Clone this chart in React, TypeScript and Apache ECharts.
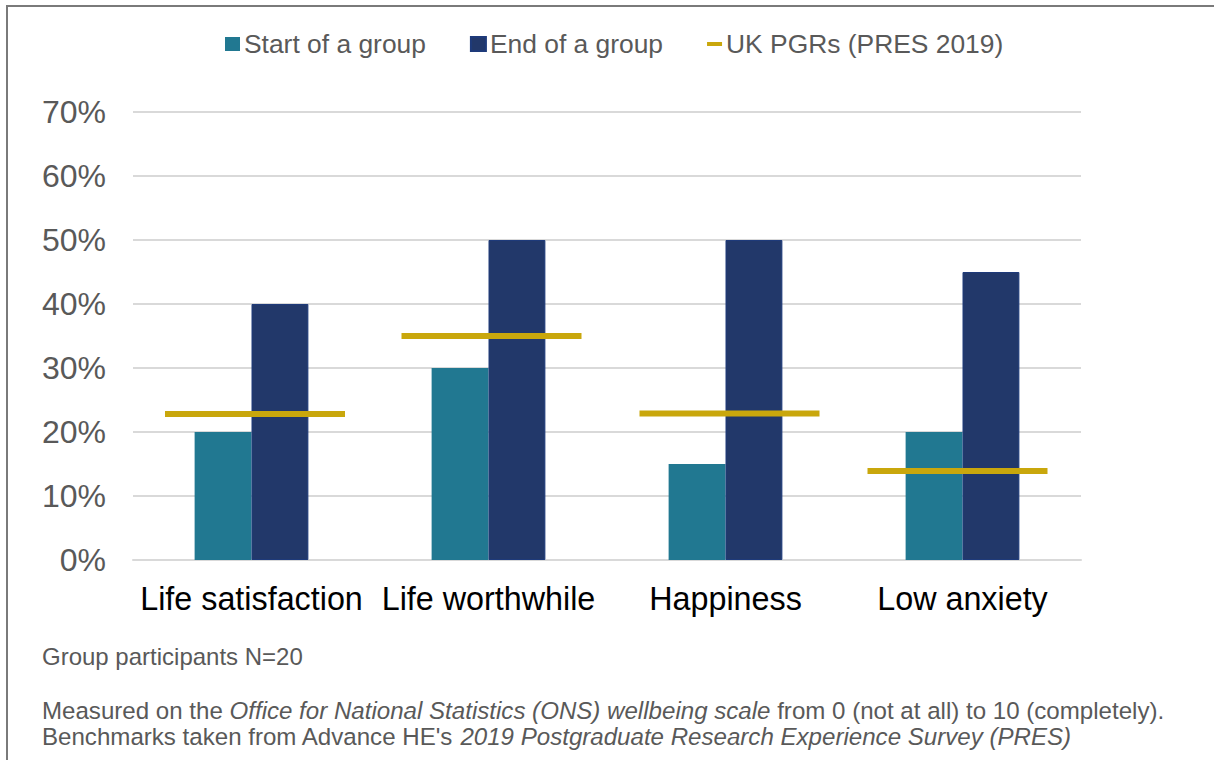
import React, { useEffect, useRef } from "react";
import * as echarts from "echarts";

const categories = ["Life satisfaction", "Life worthwhile", "Happiness", "Low anxiety"];
const startValues = [20, 30, 15, 20];
const endValues = [40, 50, 50, 45];
const benchmarkValues = [22.8, 35, 22.9, 13.9];
const seriesNames = ["Start of a group", "End of a group", "UK PGRs (PRES 2019)"];
const footerLine1 = "Group participants N=20";
const footerLine2a = "Measured on the ";
const footerLine2b = "Office for National Statistics (ONS) wellbeing scale";
const footerLine2c = " from 0 (not at all) to 10 (completely).";
const footerLine3a = "Benchmarks taken from Advance HE's ";
const footerLine3b = "2019 Postgraduate Research Experience Survey (PRES)";

const FONT = "'Liberation Sans', Arial, sans-serif";
const GREY = "#595959";

export default function App() {
  const ref = useRef<HTMLDivElement>(null);
  useEffect(() => {
    document.body.style.margin = "0";
    const chart = echarts.init(ref.current!, null, { renderer: "svg" });
    const richItalic = { fontStyle: "italic", fontSize: 24.1, fontFamily: FONT, fill: GREY, lineHeight: 26 };
    const markerShift = [3.5, 3, 4, -5];
    chart.setOption({
      animation: false,
      backgroundColor: "#ffffff",
      textStyle: { fontFamily: FONT },
      legend: {
        left: 225,
        top: 31,
        padding: 0,
        itemGap: 44,
        itemWidth: 15,
        itemHeight: 14,
        textStyle: { fontSize: 26.4, color: GREY, fontFamily: FONT, padding: [0, 0, 0, -1] },
        data: [
          { name: seriesNames[0], icon: "rect" },
          { name: seriesNames[1], icon: "rect" },
          {
            name: seriesNames[2],
            icon: "path://M0,0h0.01v0.01h-0.01z M0,5h15v4h-15z M15,14h-0.01v-0.01h0.01z",
          },
        ],
      },
      grid: { left: 133, right: 133, top: 112, bottom: 200, containLabel: false },
      xAxis: {
        type: "category",
        data: categories,
        axisLine: { show: true, lineStyle: { color: "#D9D9D9", width: 2 } },
        axisTick: { show: false },
        axisLabel: { fontSize: 32.3, color: "#000000", margin: 23, fontFamily: FONT, interval: 0 },
      },
      yAxis: {
        type: "value",
        min: 0,
        max: 70,
        interval: 10,
        axisLine: { show: false },
        axisTick: { show: false },
        splitLine: { lineStyle: { color: "#D9D9D9", width: 2 } },
        axisLabel: { formatter: "{value}%", fontSize: 32, color: GREY, margin: 27, fontFamily: FONT },
      },
      series: [
        {
          name: seriesNames[0],
          type: "bar",
          data: startValues,
          barGap: "0%",
          barCategoryGap: "52%",
          itemStyle: { color: "#217891" },
        },
        {
          name: seriesNames[1],
          type: "bar",
          data: endValues,
          itemStyle: { color: "#22386A", borderColor: "#1E3A7A", borderWidth: 1 },
        },
        {
          name: seriesNames[2],
          type: "scatter",
          data: benchmarkValues.map((v, i) => ({ value: v, symbolOffset: [markerShift[i], 0] })),
          symbol: "rect",
          symbolSize: [180, 6],
          itemStyle: { color: "#C9A70C", opacity: 1 },
          z: 5,
        },
      ],
      graphic: [
        {
          type: "rect",
          shape: { x: 7, y: 6, width: 1400, height: 900 },
          style: { fill: "none", stroke: "#7A7A7A", lineWidth: 2 },
          silent: true,
        },
        {
          type: "text",
          left: 42,
          top: 644,
          style: { text: footerLine1, fontSize: 24, fontFamily: FONT, fill: GREY },
        },
        {
          type: "text",
          left: 42,
          top: 697,
          style: {
            text:
              footerLine2a + "{i|" + footerLine2b + "}" + footerLine2c + "\n" +
              footerLine3a + "{i|" + footerLine3b + "}",
            fontSize: 24.1,
            fontFamily: FONT,
            fill: GREY,
            lineHeight: 26,
            rich: { i: richItalic },
          },
        },
      ],
    });
    return () => chart.dispose();
  }, []);
  return <div ref={ref} style={{ width: 1214, height: 760 }} />;
}
